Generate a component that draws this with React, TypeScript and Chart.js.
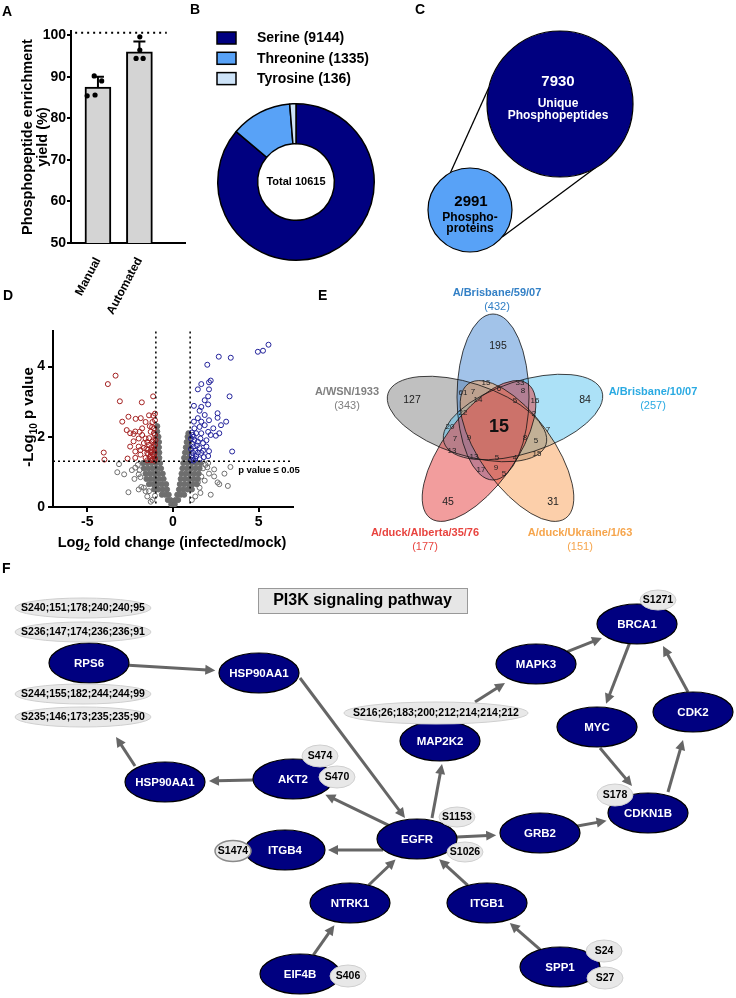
import React, { useEffect, useRef } from 'react';
import { Chart, registerables } from 'chart.js';

Chart.register(...registerables);

const FONT = '"Liberation Sans", Arial, Helvetica, sans-serif';
type Pt = [number, number];

/* ======================= DATA ======================= */
// Panel A
const methodLabels = ['Manual', 'Automated'];
const yieldMeans = [87.5, 96.0];
const yieldSD = [2.5, 2.5];
const manualReplicates = [90.2, 89.0, 85.4, 85.6];
const automatedReplicates = [99.6, 96.4, 94.4, 94.4];
const yieldTicks = [50, 60, 70, 80, 90, 100];
const yieldReferenceLine = 100.6;

// Panel B
const residueNames = ['Serine', 'Threonine', 'Tyrosine'];
const residueCounts = [9144, 1335, 136];

// Panel C
const overlapCounts = [2991, 7930];
const overlapNames = [['Phospho-', 'proteins'], ['Unique', 'Phosphopeptides']];

// Panel D
const foldChangeTicks = [-5, 0, 5];
const pValueTicks = [0, 2, 4];
const pValueCutoff = 1.3;
const foldChangeCutoff = 1;
const downRegulated: Pt[] = [
  [-3.35, 3.74], [-3.8, 3.5], [-3.1, 3.01], [-1.82, 2.98], [-1.16, 3.15], [-1.05, 2.66], [-2.96, 2.43],
  [-2.6, 2.57], [-2.18, 2.51], [-1.88, 2.53], [-2.7, 2.19], [-4.04, 1.55], [-4.0, 1.35], [-2.2, 2.15],
  [-2.3, 1.87], [-2.0, 1.95], [-1.8, 2.24], [-1.6, 2.42], [-1.4, 2.61], [-1.2, 2.42], [-1.3, 2.14],
  [-1.1, 2.24], [-1.05, 2.05], [-1.6, 1.95], [-1.4, 1.77], [-1.7, 1.68], [-2.0, 1.72], [-2.2, 1.58],
  [-2.5, 1.72], [-1.9, 1.49], [-1.5, 1.54], [-1.3, 1.45], [-1.1, 1.63], [-1.2, 1.86], [-1.05, 1.77],
  [-1.6, 1.4], [-2.2, 1.4], [-2.3, 2.08], [-2.65, 1.38], [-1.05, 1.38], [-1.2, 1.36], [-1.4, 1.96],
  [-1.8, 2.05], [-1.05, 2.47], [-1.15, 1.9], [-1.45, 1.63], [-1.3, 1.56], [-1.1, 1.49], [-1.7, 1.82],
  [-1.95, 2.14], [-2.5, 2.1], [-1.25, 1.7], [-1.5, 1.85], [-1.35, 2.3], [-1.15, 2.6], [-1.9, 1.62],
  [-1.08, 1.55], [-1.18, 1.5], [-1.25, 1.62], [-1.1, 1.72], [-1.35, 1.42], [-1.45, 1.5], [-1.55, 1.66],
  [-1.02, 1.9], [-1.12, 2.1], [-1.22, 2.28], [-1.08, 1.32], [-1.28, 1.33], [-1.5, 1.33],
];
const upRegulated: Pt[] = [
  [5.57, 4.62], [4.95, 4.42], [5.25, 4.45], [2.67, 4.28], [3.37, 4.25], [2.0, 4.05], [1.65, 3.5],
  [2.1, 3.55], [2.2, 3.6], [1.45, 3.35], [2.1, 3.35], [2.05, 3.15], [3.3, 3.15], [1.22, 2.88],
  [1.85, 3.04], [1.65, 2.85], [1.55, 2.74], [2.05, 2.92], [2.6, 2.67], [1.85, 2.62], [1.45, 2.53],
  [1.22, 2.43], [1.65, 2.43], [2.1, 2.47], [2.6, 2.54], [3.1, 2.43], [1.25, 2.24], [1.55, 2.28],
  [1.85, 2.33], [2.05, 2.14], [1.65, 2.1], [1.35, 2.1], [1.15, 2.05], [2.2, 2.05], [2.5, 2.03],
  [2.7, 2.1], [1.45, 1.86], [1.75, 1.82], [1.95, 1.72], [1.2, 1.72], [1.55, 1.68], [1.15, 1.55],
  [1.65, 1.54], [2.05, 1.45], [2.1, 1.59], [3.45, 1.58], [1.35, 1.45], [1.15, 1.4], [1.55, 1.36],
  [1.8, 1.42], [1.25, 1.91], [1.1, 2.12], [1.12, 1.8], [1.45, 1.55], [1.75, 1.6], [1.95, 1.9],
  [2.35, 2.24], [2.8, 2.33], [1.1, 1.47], [1.05, 1.33], [1.2, 1.32], [1.3, 1.6], [1.05, 1.65],
  [1.4, 1.75], [1.2, 2.0], [1.05, 1.95], [1.3, 1.38], [1.6, 1.95],
];
const unchangedSparse: Pt[] = [
  [-3.25, 0.99], [-2.85, 0.93], [-3.15, 1.22], [-2.2, 1.12], [-2.0, 0.93], [-2.6, 0.42], [-2.0, 0.5],
  [-1.85, 0.57], [-1.7, 0.55], [-1.4, 0.45], [-2.05, 1.2], [-2.25, 0.8], [-1.2, 0.2], [-1.05, 0.32],
  [-1.5, 0.3], [-1.3, 0.15], [-1.6, 0.45], [-1.9, 0.85], [-2.4, 1.05], [-1.95, 1.05],
  [1.75, 1.1], [2.0, 1.13], [2.4, 1.07], [2.2, 0.35], [2.6, 0.7], [2.7, 0.65], [3.2, 0.6], [3.0, 0.95],
  [3.35, 1.14], [1.65, 0.87], [1.85, 0.75], [1.55, 0.55], [1.45, 0.7], [2.4, 0.87], [1.9, 1.2],
  [2.1, 0.95], [1.3, 0.3], [1.1, 0.2], [1.6, 0.4], [2.05, 1.25],
];
const unchangedDense: Pt[] = [
  [0, 0.03], [-0.1, 0.08], [0.1, 0.08],
  [-0.3, 0.2], [-0.15, 0.2], [0.15, 0.2], [0.3, 0.2],
  [-0.65, 0.35], [-0.45, 0.35], [-0.25, 0.35], [0.25, 0.35], [0.45, 0.35], [0.65, 0.35],
  [-1.1, 0.5], [-0.85, 0.5], [-0.6, 0.5], [-0.35, 0.5], [0.35, 0.5], [0.6, 0.5], [0.85, 0.5], [1.1, 0.5],
  [-1.4, 0.65], [-1.15, 0.65], [-0.9, 0.65], [-0.65, 0.65], [-0.4, 0.65], [0.4, 0.65], [0.65, 0.65], [0.9, 0.65], [1.15, 0.65], [1.4, 0.65],
  [-1.55, 0.8], [-1.3, 0.8], [-1.05, 0.8], [-0.8, 0.8], [-0.55, 0.8], [0.45, 0.8], [0.7, 0.8], [0.95, 0.8], [1.2, 0.8], [1.45, 0.8],
  [-1.6, 0.95], [-1.35, 0.95], [-1.1, 0.95], [-0.85, 0.95], [-0.6, 0.95], [0.5, 0.95], [0.75, 0.95], [1.0, 0.95], [1.25, 0.95], [1.5, 0.95],
  [-1.7, 1.1], [-1.45, 1.1], [-1.2, 1.1], [-0.95, 1.1], [-0.7, 1.1], [0.55, 1.1], [0.8, 1.1], [1.05, 1.1], [1.3, 1.1], [1.55, 1.1],
  [-1.75, 1.25], [-1.5, 1.25], [-1.25, 1.25], [-1.0, 1.25], [-0.75, 1.25], [0.6, 1.25], [0.85, 1.25], [1.1, 1.25], [1.35, 1.25], [1.6, 1.25],
  [-1.0, 1.4], [-0.8, 1.4], [0.65, 1.4], [0.9, 1.4],
  [-1.0, 1.55], [-0.8, 1.55], [0.7, 1.55], [0.92, 1.55],
  [-1.0, 1.7], [-0.82, 1.7], [0.75, 1.7], [0.95, 1.7],
  [-0.98, 1.85], [-0.82, 1.85], [0.8, 1.85], [0.95, 1.85],
  [-0.95, 2.0], [-0.85, 2.0], [0.85, 2.0], [0.95, 2.0],
  [-0.92, 2.15], [0.9, 2.1], [-0.92, 2.3],
];

// Panel E
const strainNames = ['A/WSN/1933', 'A/Brisbane/59/07', 'A/Brisbane/10/07', 'A/duck/Ukraine/1/63', 'A/duck/Alberta/35/76'];
const strainTotals = [343, 432, 257, 151, 177];
const regionCounts = [195, 127, 84, 45, 31, 15, 15, 33, 61, 7, 6, 8, 14, 5, 16, 22, 2, 20, 7, 7, 9, 8, 5, 13, 13, 5, 4, 15, 17, 9, 5];

// Panel F
const pathwayTitle = 'PI3K signaling pathway';
const proteinNodes = ['RPS6', 'HSP90AA1', 'HSP90AA1', 'AKT2', 'EGFR', 'ITGB4', 'NTRK1', 'EIF4B', 'ITGB1', 'SPP1', 'GRB2', 'MAP2K2', 'MAPK3', 'BRCA1', 'MYC', 'CDK2', 'CDKN1B'];
const interactions: Pt[] = [
  [0, 1], [1, 4], [3, 2], [2, 0], [4, 3], [4, 5], [4, 11], [4, 10], [6, 4], [8, 4], [9, 8], [7, 6],
  [11, 12], [12, 13], [13, 14], [14, 16], [16, 15], [15, 13], [10, 16],
];
const phosphoSites = [
  'S240;151;178;240;240;95', 'S236;147;174;236;236;91', 'S244;155;182;244;244;99', 'S235;146;173;235;235;90',
  'S474', 'S470', 'S1153', 'S1026', 'S1474', 'S406', 'S24', 'S27', 'S178', 'S1271', 'S216;26;183;200;212;214;214;212',
];

/* ======================= LAYOUT ======================= */
const dotOffsets = [[-0.09, 0.09, -0.26, -0.07], [0.01, 0.01, -0.08, 0.09]];
const residueColors = ['#000080', '#58a2f7', '#cde3f8'];
const bubbleLayout = [{ x: 470, y: 210, r: 42 }, { x: 560, y: 104, r: 73 }];
const bubbleColors = ['#58a2f7', '#000080'];
const connectorAngles = [[-118, -167], [40, 61]];
const vennEllipses = [
  { cx: 467, cy: 419, a: 83, b: 36, rot: 18, fill: 'rgba(140,140,140,0.55)' },
  { cx: 493, cy: 397, a: 83, b: 36, rot: 90, fill: 'rgba(60,130,210,0.48)' },
  { cx: 523, cy: 417, a: 83, b: 36, rot: -18, fill: 'rgba(90,195,240,0.5)' },
  { cx: 517, cy: 451, a: 83, b: 36, rot: 54, fill: 'rgba(250,160,85,0.5)' },
  { cx: 479, cy: 451, a: 83, b: 36, rot: -54, fill: 'rgba(230,60,60,0.5)' },
];
const strainLabelLayout = [
  { x: 347, y: 392, color: '#808080' },
  { x: 497, y: 293, color: '#3380c6' },
  { x: 653, y: 392, color: '#2aaae2' },
  { x: 580, y: 533, color: '#f6a54c' },
  { x: 425, y: 533, color: '#e8443f' },
];
const regionLayout: Pt[] = [
  [498, 346], [412, 400], [585, 400], [448, 502], [553, 502], [499, 427], [486, 383], [520, 383], [463, 393],
  [473, 392], [499, 389], [523, 391], [478, 400], [515, 401], [535, 401], [463, 413], [534, 414], [450, 427],
  [548, 430], [455, 439], [469, 438], [525, 438], [536, 441], [452, 451], [474, 457], [497, 458], [515, 458],
  [537, 454], [481, 470], [496, 468], [504, 474],
];
const nodeLayout: Pt[] = [
  [89, 663], [259, 673], [165, 782], [293, 779], [417, 839], [285, 850], [350, 903], [300, 974], [487, 903],
  [560, 967], [540, 833], [440, 741], [536, 664], [637, 624], [597, 727], [693, 712], [648, 813],
];
const siteLayout = [
  [83, 608, 68, 10], [83, 632, 68, 10], [83, 694, 68, 10], [83, 717, 68, 10], [320, 756, 18, 11], [337, 777, 18, 11],
  [457, 817, 18, 10], [465, 852, 18, 10], [233, 851, 18, 10.5], [348, 976, 18, 11], [604, 951, 18, 11], [605, 978, 18, 11],
  [615, 795, 18, 11], [658, 600, 18, 10], [436, 713, 92, 11],
];
const edgeAnchors: Record<number, number[][]> = {
  1: [[41, 5], [-12, -21]],
  3: [[-30, -16], [27, 74]],
  5: [[-34, 11], [43, 0]],
  6: [[15, -21], [2, 23]],
  12: [[35, -39], [-31, 19]],
  15: [[3, 21], [-16, -27]],
  16: [[20, -21], [-10, 28]],
  17: [[-5, -20], [26, 22]],
};

/* ======================= HELPERS ======================= */
const noPlugins = { legend: { display: false }, tooltip: { enabled: false } };
const boldFont = (size: number, lineHeight?: number) => ({ family: FONT, size, weight: 'bold' as const, lineHeight: lineHeight ?? 1.2 });

function pageScales(left: number, top: number, width: number, height: number) {
  return {
    x: { type: 'linear', display: false, min: left, max: left + width },
    y: { type: 'linear', display: false, min: top, max: top + height, reverse: true },
  };
}

function drawSubText(ctx: any, parts: [string, boolean][], cx: number, cy: number, size: number, rotate: boolean) {
  ctx.save();
  ctx.translate(cx, cy);
  if (rotate) ctx.rotate(-Math.PI / 2);
  const big = `bold ${size}px ${FONT}`;
  const small = `bold ${Math.round(size * 0.68)}px ${FONT}`;
  let total = 0;
  parts.forEach(([t, sub]) => { ctx.font = sub ? small : big; total += ctx.measureText(t).width; });
  let x = -total / 2;
  ctx.textAlign = 'left';
  ctx.textBaseline = 'alphabetic';
  ctx.fillStyle = '#000';
  parts.forEach(([t, sub]) => {
    ctx.font = sub ? small : big;
    ctx.fillText(t, x, sub ? size * 0.62 : size * 0.36);
    x += ctx.measureText(t).width;
  });
  ctx.restore();
}

/* ======================= PANEL A ======================= */
const panelAPlugin = {
  id: 'panelA',
  afterDatasetDraw(chart: any, args: any) {
    if (args.meta.type !== 'bar') return;
    const { ctx, scales: { x, y } } = chart;
    ctx.save();
    ctx.strokeStyle = '#000';
    ctx.lineWidth = 2;
    yieldMeans.forEach((m, i) => {
      const px = x.getPixelForValue(i);
      const base = y.getPixelForValue(m);
      const top = y.getPixelForValue(m + yieldSD[i]);
      ctx.beginPath();
      ctx.moveTo(px, base); ctx.lineTo(px, top);
      ctx.moveTo(px - 6, top); ctx.lineTo(px + 6, top);
      ctx.stroke();
    });
    ctx.restore();
  },
  afterDraw(chart: any) {
    const { ctx, scales: { x, y } } = chart;
    const py = y.getPixelForValue(yieldReferenceLine);
    ctx.save();
    ctx.strokeStyle = '#000';
    ctx.lineWidth = 2;
    ctx.setLineDash([2, 4]);
    ctx.beginPath();
    ctx.moveTo(x.getPixelForValue(-0.55), py);
    ctx.lineTo(x.getPixelForValue(1.66), py);
    ctx.stroke();
    ctx.restore();
  },
};

function buildA(): any {
  const dots = [
    ...manualReplicates.map((v, i) => ({ x: 0 + dotOffsets[0][i], y: v })),
    ...automatedReplicates.map((v, i) => ({ x: 1 + dotOffsets[1][i], y: v })),
  ];
  return {
    type: 'bar',
    data: {
      datasets: [
        { type: 'scatter', data: dots, backgroundColor: '#000', borderColor: '#000', pointRadius: 2.6, borderWidth: 0 },
        {
          type: 'bar', data: yieldMeans.map((v, i) => ({ x: i, y: v })), backgroundColor: '#d4d4d4',
          borderColor: '#000', borderWidth: 2, barThickness: 26,
        },
      ],
    },
    options: {
      responsive: false, animation: false,
      layout: { padding: { top: 31, right: 5, left: 0, bottom: 0 }, autoPadding: false },
      plugins: noPlugins,
      scales: {
        x: {
          type: 'linear', min: -0.65, max: 2.1, offset: false,
          afterBuildTicks: (s: any) => { s.ticks = methodLabels.map((_, i) => ({ value: i })); },
          afterFit: (s: any) => { s.height = 77; },
          grid: { display: false, offset: false },
          border: { display: true, color: '#000', width: 2 },
          ticks: {
            callback: (v: any) => methodLabels[v] ?? '', font: boldFont(12), color: '#000',
            minRotation: 62, maxRotation: 62, padding: 4, autoSkip: false,
          },
        },
        y: {
          type: 'linear', min: 50, max: 101,
          afterBuildTicks: (s: any) => { s.ticks = yieldTicks.map((v) => ({ value: v })); },
          afterFit: (s: any) => { s.width = 71; },
          grid: { display: true, drawOnChartArea: false, drawTicks: true, tickLength: 4, color: '#000', lineWidth: 2 },
          border: { display: true, color: '#000', width: 2 },
          ticks: { font: boldFont(14), color: '#000', padding: 1 },
          title: {
            display: true, text: ['Phosphopeptide enrichment', 'yield (%)'], font: boldFont(14.5, '15px'), color: '#000',
            padding: { top: 20, bottom: 0 },
          },
        },
      },
    },
    plugins: [panelAPlugin],
  };
}

/* ======================= PANEL B ======================= */
const panelBPlugin = {
  id: 'panelB',
  afterDraw(chart: any) {
    const { ctx } = chart;
    const arc = chart.getDatasetMeta(0).data[0];
    const total = residueCounts.reduce((a, b) => a + b, 0);
    ctx.save();
    ctx.fillStyle = '#000';
    ctx.font = `bold 11px ${FONT}`;
    ctx.textAlign = 'center';
    ctx.textBaseline = 'middle';
    ctx.fillText(`Total ${total}`, arc.x, arc.y);
    residueNames.forEach((name, i) => {
      const y0 = 12 + i * 20.3;
      ctx.fillStyle = residueColors[i];
      ctx.fillRect(27, y0, 19, 12);
      ctx.strokeStyle = '#000';
      ctx.lineWidth = 1.5;
      ctx.strokeRect(27, y0, 19, 12);
      ctx.fillStyle = '#000';
      ctx.font = `bold 14px ${FONT}`;
      ctx.textAlign = 'left';
      ctx.fillText(`${name} (${residueCounts[i]})`, 67, y0 + 6.5);
    });
    ctx.restore();
  },
};

function buildB(): any {
  return {
    type: 'doughnut',
    data: {
      labels: residueNames,
      datasets: [{ data: residueCounts, backgroundColor: residueColors, borderColor: '#000', borderWidth: 1.5 }],
    },
    options: {
      responsive: false, animation: false, cutout: '49%',
      layout: { padding: { left: 27, top: 83, right: 65, bottom: 19 } },
      plugins: noPlugins,
    },
    plugins: [panelBPlugin],
  };
}

/* ======================= PANEL C ======================= */
const panelCPlugin = {
  id: 'panelC',
  beforeDatasetsDraw(chart: any) {
    const { ctx, scales: { x, y } } = chart;
    const [s, b] = bubbleLayout;
    ctx.save();
    ctx.strokeStyle = '#000';
    ctx.lineWidth = 1.3;
    connectorAngles.forEach(([a1, a2]) => {
      const r1 = (a1 * Math.PI) / 180, r2 = (a2 * Math.PI) / 180;
      ctx.beginPath();
      ctx.moveTo(x.getPixelForValue(s.x) + Math.cos(r1) * s.r, y.getPixelForValue(s.y) + Math.sin(r1) * s.r);
      ctx.lineTo(x.getPixelForValue(b.x) + Math.cos(r2) * b.r, y.getPixelForValue(b.y) + Math.sin(r2) * b.r);
      ctx.stroke();
    });
    ctx.restore();
  },
  afterDatasetsDraw(chart: any) {
    const { ctx, scales: { x, y } } = chart;
    ctx.save();
    ctx.textAlign = 'center';
    ctx.textBaseline = 'middle';
    const s = bubbleLayout[0], b = bubbleLayout[1];
    ctx.fillStyle = '#000';
    ctx.font = `bold 15px ${FONT}`;
    ctx.fillText(String(overlapCounts[0]), x.getPixelForValue(s.x + 1), y.getPixelForValue(s.y - 8));
    ctx.font = `bold 12px ${FONT}`;
    ctx.fillText(overlapNames[0][0], x.getPixelForValue(s.x), y.getPixelForValue(s.y + 8));
    ctx.fillText(overlapNames[0][1], x.getPixelForValue(s.x), y.getPixelForValue(s.y + 19));
    ctx.fillStyle = '#fff';
    ctx.font = `bold 15px ${FONT}`;
    ctx.fillText(String(overlapCounts[1]), x.getPixelForValue(b.x - 2), y.getPixelForValue(b.y - 22));
    ctx.font = `bold 12px ${FONT}`;
    ctx.fillText(overlapNames[1][0], x.getPixelForValue(b.x - 2), y.getPixelForValue(b.y));
    ctx.fillText(overlapNames[1][1], x.getPixelForValue(b.x - 2), y.getPixelForValue(b.y + 12));
    ctx.restore();
  },
};

function buildC(): any {
  return {
    type: 'bubble',
    data: {
      datasets: [{ data: bubbleLayout, backgroundColor: bubbleColors, borderColor: '#000', borderWidth: 1.2, clip: false }],
    },
    options: {
      responsive: false, animation: false,
      layout: { padding: 0, autoPadding: false },
      plugins: noPlugins,
      scales: pageScales(420, 20, 316, 260),
    },
    plugins: [panelCPlugin],
  };
}

/* ======================= PANEL D ======================= */
const panelDPlugin = {
  id: 'panelD',
  afterDatasetsDraw(chart: any) {
    const { ctx, scales: { x, y }, chartArea } = chart;
    ctx.save();
    ctx.strokeStyle = '#000';
    ctx.lineWidth = 1.5;
    ctx.setLineDash([2, 3]);
    ctx.beginPath();
    [-foldChangeCutoff, foldChangeCutoff].forEach((v) => {
      const px = x.getPixelForValue(v);
      ctx.moveTo(px, chartArea.top);
      ctx.lineTo(px, chartArea.bottom);
    });
    const py = y.getPixelForValue(pValueCutoff);
    ctx.moveTo(chartArea.left, py);
    ctx.lineTo(chartArea.right, py);
    ctx.stroke();
    ctx.setLineDash([]);
    ctx.fillStyle = '#000';
    ctx.font = `bold 9.5px ${FONT}`;
    ctx.textAlign = 'left';
    ctx.textBaseline = 'middle';
    ctx.fillText('p value \u2264 0.05', x.getPixelForValue(3.8), py + 9);
    ctx.restore();
    drawSubText(ctx, [['-Log', false], ['10', true], [' p value', false]], 28, 97, 15, true);
    drawSubText(ctx, [['Log', false], ['2', true], [' fold change (infected/mock)', false]], 172, 222, 14.5, false);
  },
};

function buildD(): any {
  const toXY = (arr: Pt[]) => arr.map(([a, b]) => ({ x: a, y: b }));
  const hollow = (data: Pt[], color: string) => ({
    data: toXY(data), borderColor: color, backgroundColor: 'rgba(0,0,0,0)', pointRadius: 2.5, borderWidth: 1,
  });
  return {
    type: 'scatter',
    data: {
      datasets: [
        hollow(upRegulated, '#22229a'),
        hollow(downRegulated, '#a32020'),
        hollow(unchangedSparse, '#6e6e6e'),
        { data: toXY(unchangedDense), borderColor: '#6e6e6e', backgroundColor: '#6e6e6e', pointRadius: 2.6, borderWidth: 1 },
      ],
    },
    options: {
      responsive: false, animation: false,
      layout: { padding: { top: 8, right: 17, left: 0, bottom: 0 }, autoPadding: false },
      plugins: noPlugins,
      scales: {
        x: {
          type: 'linear', min: -7, max: 7,
          afterBuildTicks: (s: any) => { s.ticks = foldChangeTicks.map((v) => ({ value: v })); },
          afterFit: (s: any) => { s.height = 58; },
          grid: { display: true, drawOnChartArea: false, drawTicks: true, tickLength: 5, color: '#000', lineWidth: 2 },
          border: { display: true, color: '#000', width: 2 },
          ticks: { font: boldFont(14), color: '#000', padding: 2, maxRotation: 0, callback: (v: any) => String(v) },
        },
        y: {
          type: 'linear', min: 0, max: 5,
          afterBuildTicks: (s: any) => { s.ticks = pValueTicks.map((v) => ({ value: v })); },
          afterFit: (s: any) => { s.width = 53; },
          grid: { display: true, drawOnChartArea: false, drawTicks: true, tickLength: 5, color: '#000', lineWidth: 2 },
          border: { display: true, color: '#000', width: 2 },
          ticks: { font: boldFont(14), color: '#000', padding: 3 },
        },
      },
    },
    plugins: [panelDPlugin],
  };
}

/* ======================= PANEL E ======================= */
const panelEPlugin = {
  id: 'panelE',
  afterDatasetsDraw(chart: any) {
    const { ctx, scales: { x, y } } = chart;
    const k = x.getPixelForValue(1) - x.getPixelForValue(0);
    ctx.save();
    vennEllipses.forEach((e) => {
      ctx.beginPath();
      ctx.ellipse(x.getPixelForValue(e.cx), y.getPixelForValue(e.cy), e.a * k, e.b * k, (e.rot * Math.PI) / 180, 0, Math.PI * 2);
      ctx.fillStyle = e.fill;
      ctx.fill();
    });
    ctx.strokeStyle = 'rgba(20,20,20,0.8)';
    ctx.lineWidth = 1;
    vennEllipses.forEach((e) => {
      ctx.beginPath();
      ctx.ellipse(x.getPixelForValue(e.cx), y.getPixelForValue(e.cy), e.a * k, e.b * k, (e.rot * Math.PI) / 180, 0, Math.PI * 2);
      ctx.stroke();
    });
    ctx.textAlign = 'center';
    ctx.textBaseline = 'middle';
    regionCounts.forEach((c, i) => {
      const [px, py] = regionLayout[i];
      if (i < 5) { ctx.font = `10.5px ${FONT}`; ctx.fillStyle = '#222'; }
      else if (i === 5) { ctx.font = `bold 18px ${FONT}`; ctx.fillStyle = '#111'; }
      else { ctx.font = `8px ${FONT}`; ctx.fillStyle = '#222'; }
      ctx.fillText(String(c), x.getPixelForValue(px), y.getPixelForValue(py));
    });
    strainNames.forEach((name, i) => {
      const l = strainLabelLayout[i];
      ctx.fillStyle = l.color;
      ctx.font = `bold 11px ${FONT}`;
      ctx.fillText(name, x.getPixelForValue(l.x), y.getPixelForValue(l.y));
      ctx.font = `11px ${FONT}`;
      ctx.fillText(`(${strainTotals[i]})`, x.getPixelForValue(l.x), y.getPixelForValue(l.y + 13.5));
    });
    ctx.restore();
  },
};

function buildE(): any {
  return {
    type: 'scatter',
    data: { datasets: [{ data: regionLayout.map(([a, b]) => ({ x: a, y: b })), pointRadius: 0 }] },
    options: {
      responsive: false, animation: false,
      layout: { padding: 0, autoPadding: false },
      plugins: noPlugins,
      scales: pageScales(300, 280, 436, 280),
    },
    plugins: [panelEPlugin],
  };
}

/* ======================= PANEL F ======================= */
const NODE_RX = 40;
const NODE_RY = 20;

function boundaryPoint(cx: number, cy: number, tx: number, ty: number, rx: number, ry: number) {
  const dx = tx - cx, dy = ty - cy;
  const t = 1 / Math.sqrt((dx / rx) ** 2 + (dy / ry) ** 2);
  return [cx + dx * t, cy + dy * t];
}

const panelFPlugin = {
  id: 'panelF',
  afterDatasetsDraw(chart: any) {
    const { ctx, scales: { x, y } } = chart;
    const k = x.getPixelForValue(1) - x.getPixelForValue(0);
    const P = (v: number) => x.getPixelForValue(v);
    const Q = (v: number) => y.getPixelForValue(v);
    ctx.save();
    ctx.fillStyle = '#e6e6e6';
    ctx.strokeStyle = '#999';
    ctx.lineWidth = 1;
    ctx.fillRect(P(258), Q(588), 209 * k, 25 * k);
    ctx.strokeRect(P(258) + 0.5, Q(588) + 0.5, 209 * k, 25 * k);
    ctx.fillStyle = '#000';
    ctx.font = `bold 16px ${FONT}`;
    ctx.textAlign = 'center';
    ctx.textBaseline = 'middle';
    ctx.fillText(pathwayTitle, P(362.5), Q(601));

    ctx.strokeStyle = '#666';
    ctx.fillStyle = '#666';
    ctx.lineWidth = 3;
    interactions.forEach(([a, b], i) => {
      const [ax, ay] = nodeLayout[a];
      const [bx, by] = nodeLayout[b];
      let sx, sy, ex, ey;
      const anchor = edgeAnchors[i];
      if (anchor) {
        sx = ax + anchor[0][0]; sy = ay + anchor[0][1];
        ex = bx + anchor[1][0]; ey = by + anchor[1][1];
      } else {
        [sx, sy] = boundaryPoint(ax, ay, bx, by, NODE_RX, NODE_RY);
        const [tx, ty] = boundaryPoint(bx, by, ax, ay, NODE_RX, NODE_RY);
        const L = Math.hypot(tx - sx, ty - sy);
        ex = tx - ((tx - sx) / L) * 4; ey = ty - ((ty - sy) / L) * 4;
      }
      const X1 = P(sx), Y1 = Q(sy), X2 = P(ex), Y2 = Q(ey);
      const L = Math.hypot(X2 - X1, Y2 - Y1);
      const ux = (X2 - X1) / L, uy = (Y2 - Y1) / L;
      const head = 10, half = 5;
      ctx.beginPath();
      ctx.moveTo(X1, Y1);
      ctx.lineTo(X2 - ux * head * 0.8, Y2 - uy * head * 0.8);
      ctx.stroke();
      ctx.beginPath();
      ctx.moveTo(X2, Y2);
      ctx.lineTo(X2 - ux * head - uy * half, Y2 - uy * head + ux * half);
      ctx.lineTo(X2 - ux * head + uy * half, Y2 - uy * head - ux * half);
      ctx.closePath();
      ctx.fill();
    });

    proteinNodes.forEach((name, i) => {
      const [nx, ny] = nodeLayout[i];
      ctx.beginPath();
      ctx.ellipse(P(nx), Q(ny), NODE_RX * k, NODE_RY * k, 0, 0, Math.PI * 2);
      ctx.fillStyle = '#000080';
      ctx.fill();
      ctx.strokeStyle = '#000';
      ctx.lineWidth = 1.2;
      ctx.stroke();
      ctx.fillStyle = '#fff';
      ctx.font = `bold 11.5px ${FONT}`;
      ctx.fillText(name, P(nx), Q(ny + 0.5));
    });

    phosphoSites.forEach((label, i) => {
      const [sx, sy, rx, ry] = siteLayout[i];
      ctx.beginPath();
      ctx.ellipse(P(sx), Q(sy), rx * k, ry * k, 0, 0, Math.PI * 2);
      ctx.fillStyle = '#e8e8e8';
      ctx.fill();
      ctx.strokeStyle = label === 'S1474' ? '#8a8a8a' : '#cfcfcf';
      ctx.lineWidth = label === 'S1474' ? 1.5 : 1;
      ctx.stroke();
      ctx.fillStyle = '#000';
      ctx.font = `bold 10.5px ${FONT}`;
      ctx.fillText(label, P(sx), Q(sy + 0.5));
    });
    ctx.restore();
  },
};

function buildF(): any {
  return {
    type: 'scatter',
    data: { datasets: [{ data: nodeLayout.map(([a, b]) => ({ x: a, y: b })), pointRadius: 0 }] },
    options: {
      responsive: false, animation: false,
      layout: { padding: 0, autoPadding: false },
      plugins: noPlugins,
      scales: pageScales(0, 560, 736, 438),
    },
    plugins: [panelFPlugin],
  };
}

/* ======================= COMPONENTS ======================= */
function ChartCanvas({ left, top, width, height, build }: any) {
  const ref = useRef<HTMLCanvasElement | null>(null);
  useEffect(() => {
    if (!ref.current) return;
    const chart = new Chart(ref.current, build());
    return () => chart.destroy();
  }, []);
  return (
    <canvas
      ref={ref}
      width={width}
      height={height}
      style={{ position: 'absolute', left, top, width, height, display: 'block' }}
    />
  );
}

const panelLetters: [string, number, number][] = [
  ['A', 2, 4], ['B', 190, 2], ['C', 415, 2], ['D', 3, 288], ['E', 318, 288], ['F', 2, 561],
];

export default function App() {
  return (
    <div
      style={{
        position: 'absolute', left: 0, top: 0, width: 736, height: 998, overflow: 'hidden',
        background: '#fff', fontFamily: FONT,
      }}
    >
      <ChartCanvas left={0} top={0} width={190} height={320} build={buildA} />
      <ChartCanvas left={190} top={20} width={250} height={260} build={buildB} />
      <ChartCanvas left={420} top={20} width={316} height={260} build={buildC} />
      <ChartCanvas left={0} top={320} width={310} height={245} build={buildD} />
      <ChartCanvas left={300} top={280} width={436} height={280} build={buildE} />
      <ChartCanvas left={0} top={560} width={736} height={438} build={buildF} />
      {panelLetters.map(([t, l, tp]) => (
        <div
          key={t}
          style={{
            position: 'absolute', left: l, top: tp, fontSize: 14, fontWeight: 'bold', lineHeight: '14px',
            color: '#000', fontFamily: FONT,
          }}
        >
          {t}
        </div>
      ))}
    </div>
  );
}
